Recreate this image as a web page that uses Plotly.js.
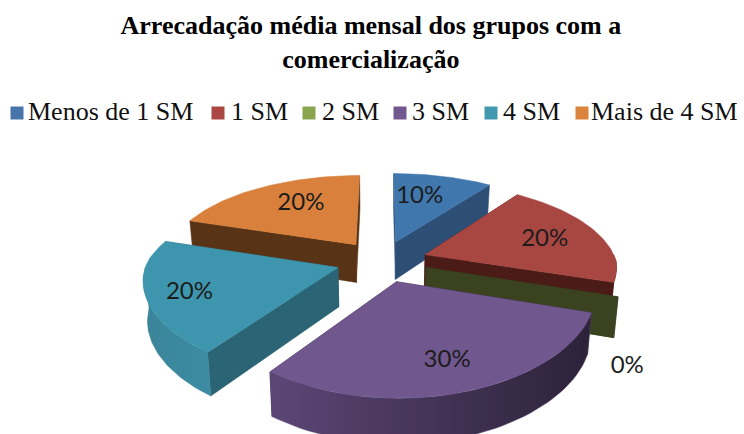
<!DOCTYPE html>
<html>
<head>
<meta charset="utf-8">
<script src="https://cdn.plot.ly/plotly-3.0.1.min.js"></script>
<style>html,body{margin:0;padding:0;background:#fff}#chart{width:744px;height:434px}</style>
</head>
<body>
<div id="chart"></div>
<script>
const categories = ['Menos de 1 SM', '1 SM', '2 SM', '3 SM', '4 SM', 'Mais de 4 SM'];
const shares = [10, 20, 0, 30, 20, 20];
const titleText = 'Arrecadação média mensal dos grupos com a<br>comercialização';

function render() {
  const topColors = ['#4077AD', '#A84642', '#89A54E', '#70588F', '#3E96AE', '#D9813C'];
  const wallColors = ['#2D4F76', '#4A1B17', '#3A421F', '#2C2238', '#2B6475', '#593315'];
  const arcColors = [
    ['#2D4F76', '#2D4F76'], ['#4A1B17', '#4A1B17'], ['#3A421F', '#3A421F'],
    ['#5C4676', '#2C2238'], ['#3A8499', '#3D8CA3'], ['#593315', '#593315']
  ];
  const legendColors = ['#4674AB', '#AA4643', '#89A54E', '#71588F', '#4198AF', '#DB843D'];
  const legendMarkX = [17, 218, 309, 400, 491, 582];
  const legendTextX = [28, 231, 322, 412, 503, 591];
  const labelPlace = [[0.68, -5], [0.7, 0], [1.28, 27], [0.74, 0], [0.78, 0], [0.68, 6]];
  const paintOrder = [5, 0, 1, 2, 4, 3];

  const cx = 382, cy = 261, R = 191, A = 87, H = 39, E = 0.24;
  const rad = d => d * Math.PI / 180;
  const project = (u, v, z) => {
    const sx = 1 / (1 + (v > 0 ? 0.17 : 0.12) * v), sy = 1 / (1 + 0.18 * v);
    const px = R * u * sx, py = A * v * sy;
    return z
      ? [cx + px * 0.982, cy - py + H * sx]
      : [cx + px, cy - py];
  };

  const total = shares.reduce((a, b) => a + b, 0);
  let acc = 0;
  const slices = shares.map(s => {
    const start = acc / total * 360;
    acc += s;
    return { start, end: acc / total * 360 };
  });

  const traces = [];
  const poly = (pts, color, grad, name) => {
    const t = {
      type: 'scatter', mode: 'lines',
      x: pts.map(p => p[0]).concat([pts[0][0]]),
      y: pts.map(p => p[1]).concat([pts[0][1]]),
      fill: 'toself', fillcolor: color,
      line: { width: 0.5, color: color },
      hoverinfo: 'skip', showlegend: false, name: name
    };
    if (grad) {
      t.fillgradient = { type: 'horizontal', colorscale: [[0, grad[0]], [1, grad[1]]] };
    }
    traces.push(t);
  };

  paintOrder.forEach(i => {
    const { start, end } = slices[i];
    const mid = (start + end) / 2;
    const ou = E * Math.sin(rad(mid)), ov = E * Math.cos(rad(mid));
    const at = (deg, z) => project(ou + Math.sin(rad(deg)), ov + Math.cos(rad(deg)), z);
    const apex = z => project(ou, ov, z);

    poly([apex(false), at(start, false), at(start, true), apex(true)], wallColors[i], null, categories[i]);
    poly([apex(false), at(end, false), at(end, true), apex(true)], wallColors[i], null, categories[i]);

    const a0 = Math.max(start, 90), a1 = Math.min(end, 270);
    if (a1 > a0) {
      const upper = [], lower = [];
      for (let k = 0; k <= 48; k++) {
        const d = a0 + (a1 - a0) * k / 48;
        upper.push(at(d, false));
        lower.unshift(at(d, true));
      }
      poly(upper.concat(lower), arcColors[i][0], [arcColors[i][0], arcColors[i][1]], categories[i]);
    }
    if (end > start) {
      const top = [apex(false)];
      for (let k = 0; k <= 48; k++) top.push(at(start + (end - start) * k / 48, false));
      poly(top, topColors[i], null, categories[i]);
    }
  });

  shares.forEach((s, i) => {
    const mid = (slices[i].start + slices[i].end) / 2;
    const ou = E * Math.sin(rad(mid)), ov = E * Math.cos(rad(mid));
    const a = rad(mid + labelPlace[i][1]), r = labelPlace[i][0];
    const p = project(ou + r * Math.sin(a), ov + r * Math.cos(a), false);
    traces.push({
      type: 'scatter', mode: 'text', x: [p[0]], y: [p[1] + 3], text: [s + '%'],
      textposition: 'middle center',
      textfont: { family: 'Lato, "Open Sans", sans-serif', size: 24, color: '#1c1c1c' },
      hoverinfo: 'skip', showlegend: false
    });
  });

  categories.forEach((c, i) => {
    traces.push({
      type: 'scatter', mode: 'markers', x: [legendMarkX[i]], y: [113],
      marker: { symbol: 'square', size: 13, color: legendColors[i] },
      hoverinfo: 'skip', showlegend: false
    });
    traces.push({
      type: 'scatter', mode: 'text', x: [legendTextX[i]], y: [113], text: [c],
      textposition: 'middle right',
      textfont: { family: '"Liberation Serif", serif', size: 26, color: '#111' },
      hoverinfo: 'skip', showlegend: false
    });
  });

  Plotly.newPlot('chart', traces, {
    width: 744, height: 434,
    margin: { l: 0, r: 0, t: 0, b: 0 },
    paper_bgcolor: '#fff', plot_bgcolor: '#fff',
    title: {
      text: titleText, x: 0.4985, xanchor: 'center', y: 0.921, yanchor: 'middle',
      yref: 'container',
      font: { family: '"Liberation Serif", serif', size: 26, color: '#000', weight: 'bold' }
    },
    xaxis: { range: [0, 744], visible: false, fixedrange: true },
    yaxis: { range: [434, 0], visible: false, fixedrange: true },
    showlegend: false
  }, { displayModeBar: false, staticPlot: true });
}
render();
</script>
</body>
</html>
